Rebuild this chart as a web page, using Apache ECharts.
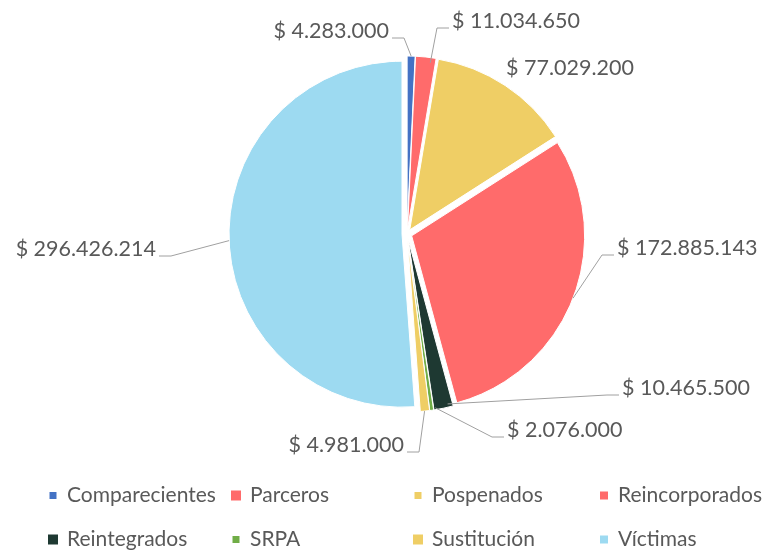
<!DOCTYPE html>
<html>
<head>
<meta charset="utf-8">
<script src="https://cdn.jsdelivr.net/npm/echarts@6/dist/echarts.min.js"></script>
<style>
  html, body { margin: 0; padding: 0; background: #fff; }
  #chart { width: 773px; height: 550px; }
</style>
</head>
<body>
<div id="chart"></div>
<script>
const categories = ['Comparecientes', 'Parceros', 'Pospenados', 'Reincorporados', 'Reintegrados', 'SRPA', 'Sustitución', 'Víctimas']
const values = [4283000, 11034650, 77029200, 172885143, 10465500, 2076000, 4981000, 296426214]
const colors = ['#4472C4', '#FF6B6B', '#EFCE65', '#FF6B6B', '#1E3932', '#70AD47', '#EFCE65', '#9DDAF1']

// posicion de las etiquetas (x, y, alineacion) como en el original
const labelPos = [
  [389, 31, 'right'],
  [452, 21, 'left'],
  [506, 68, 'left'],
  [617, 248, 'left'],
  [622, 388, 'left'],
  [507, 430, 'left'],
  [404, 445, 'right'],
  [156, 249, 'right']
]
// leyenda: columna x, fila y (centro), tamano del icono
const legendX = [48, 231, 413, 599]
const legendY = [497, 541]
const legendIcon = [7, 10, 7, 8, 10, 7, 10, 8]

const EXPLODE = 5

const chart = echarts.init(document.getElementById('chart'))

// formato $ 1.234.567
const fmt = v => '$ ' + String(v).replace(/\B(?=(\d{3})+(?!\d))/g, '.')

const legends = categories.map((name, i) => ({
  data: [name],
  left: legendX[i % 4] + (10 - legendIcon[i]) / 2,
  top: legendY[Math.floor(i / 4)] - 12,
  height: 24,
  padding: 0,
  itemWidth: legendIcon[i],
  itemHeight: legendIcon[i],
  icon: 'rect',
  itemStyle: { borderWidth: 0 },
  selectedMode: false,
  textStyle: { color: '#595959', fontSize: 21, fontFamily: 'Lato', padding: [0, 0, 0, 4 + (10 - legendIcon[i]) / 2] }
}))

const base = {
  type: 'pie',
  center: [407, 234],
  radius: 173,
  startAngle: 90,
  clockwise: true,
  emphasis: { disabled: true }
}

const option = {
  animation: false,
  color: colors,
  textStyle: { fontFamily: 'Lato' },
  legend: legends,
  series: [
    // sectores separados (explotados)
    Object.assign({}, base, {
      selectedMode: 'multiple',
      selectedOffset: EXPLODE,
      itemStyle: { borderColor: '#fff', borderWidth: 1 },
      label: { show: false },
      labelLine: { show: false },
      data: categories.map((name, i) => ({ name, value: values[i], selected: true }))
    }),
    // solo etiquetas y lineas guia
    Object.assign({}, base, {
      silent: true,
      z: 3,
      itemStyle: { color: 'rgba(0,0,0,0)', borderWidth: 0 },
      label: {
        color: '#595959',
        fontSize: 21.5,
        fontFamily: 'Lato',
        formatter: p => fmt(p.value)
      },
      labelLine: { length: 10, length2: 10, lineStyle: { color: '#A0A0A0', width: 1 } },
      labelLayout: params => {
        const p = labelPos[params.dataIndex]
        const pts = params.labelLinePoints
        const dx = pts[1][0] - pts[0][0]
        const dy = pts[1][1] - pts[0][1]
        const len = Math.sqrt(dx * dx + dy * dy) || 1
        const start = [pts[0][0] + dx / len * EXPLODE, pts[0][1] + dy / len * EXPLODE]
        const ly = p[1] + 7
        const end = p[2] === 'left' ? [p[0] - 3, ly] : [p[0] + 3, ly]
        const elbow = p[2] === 'left' ? [end[0] - 12, ly] : [end[0] + 12, ly]
        return {
          x: p[0],
          y: p[1],
          align: p[2],
          verticalAlign: 'middle',
          labelLinePoints: params.dataIndex === 2 ? [start, start, start] : [start, elbow, end]
        }
      },
      data: categories.map((name, i) => ({ name, value: values[i] }))
    })
  ]
}

chart.setOption(option)
</script>
</body>
</html>
